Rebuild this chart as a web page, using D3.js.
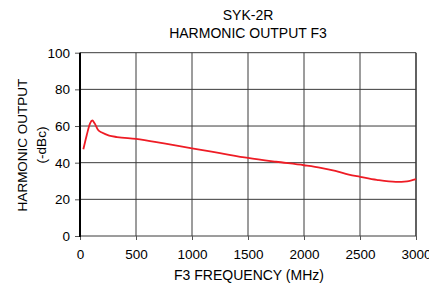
<!DOCTYPE html>
<html>
<head>
<meta charset="utf-8">
<script src="https://cdn.jsdelivr.net/npm/d3@7"></script>
<style>
  body { margin: 0; background: #fff; }
  text { font-family: "Liberation Sans", Arial, sans-serif; fill: #000; }
</style>
</head>
<body>
<svg id="chart" width="429" height="287"></svg>
<script>
// curve
const freq = [30, 60, 90, 110, 130, 160, 200, 260, 330, 500, 750, 1000, 1250, 1500, 1750, 2000, 2150, 2280, 2400, 2500, 2650, 2820, 2920, 3000];
const level = [47.3, 55, 61.5, 63, 61.5, 58, 56.3, 54.8, 54, 53, 50.5, 47.8, 45.2, 42.6, 40.5, 38.6, 37.2, 35.5, 33.5, 32.3, 30.6, 29.5, 29.8, 31];
const xTicks = [0, 500, 1000, 1500, 2000, 2500, 3000];
const yTicks = [0, 20, 40, 60, 80, 100];

const svg = d3.select('#chart');
const m = { left: 80, right: 416, top: 52.7, bottom: 236 };

const x = d3.scaleLinear().domain([0, 3000]).range([m.left, m.right]);
const y = d3.scaleLinear().domain([0, 100]).range([m.bottom, m.top]);

// grid
svg.append('g')
  .selectAll('line')
  .data(yTicks)
  .enter().append('line')
  .attr('x1', m.left).attr('x2', m.right)
  .attr('y1', d => y(d)).attr('y2', d => y(d))
  .attr('stroke', '#3a3a3a').attr('stroke-width', 1);

svg.append('g')
  .selectAll('line')
  .data(xTicks.slice(1))
  .enter().append('line')
  .attr('x1', d => x(d)).attr('x2', d => x(d))
  .attr('y1', m.top).attr('y2', m.bottom)
  .attr('stroke', '#3a3a3a').attr('stroke-width', d => d === 3000 ? 1.6 : 1);

// axes
const xAxis = d3.axisBottom(x).tickValues(xTicks).tickSize(4).tickPadding(9).tickFormat(d3.format('d'));
const gx = svg.append('g').attr('transform', `translate(0,${m.bottom})`).call(xAxis);
gx.select('.domain').remove();
gx.selectAll('line').attr('stroke', '#555');
gx.selectAll('text').attr('font-size', 13.5);

const yAxis = d3.axisLeft(y).tickValues(yTicks).tickSize(5).tickPadding(5);
const gy = svg.append('g').attr('transform', `translate(${m.left},0)`).call(yAxis);
gy.select('.domain').remove();
gy.selectAll('line').attr('stroke', '#555');
gy.selectAll('text').attr('font-size', 13.5);

svg.append('line')
  .attr('x1', m.left).attr('x2', m.left)
  .attr('y1', m.top).attr('y2', m.bottom + 1)
  .attr('stroke', '#000').attr('stroke-width', 2);

// curve
const line = d3.line()
  .x((d, i) => x(freq[i]))
  .y(d => y(d))
  .curve(d3.curveMonotoneX);

svg.append('path')
  .datum(level)
  .attr('d', line)
  .attr('fill', 'none')
  .attr('stroke', '#ee1c25')
  .attr('stroke-width', 1.8);

// titles
svg.append('text').attr('x', 248).attr('y', 20).attr('text-anchor', 'middle').attr('font-size', 14).text('SYK-2R');
svg.append('text').attr('x', 248).attr('y', 38).attr('text-anchor', 'middle').attr('font-size', 14).text('HARMONIC OUTPUT F3');
svg.append('text').attr('x', 249).attr('y', 280).attr('text-anchor', 'middle').attr('font-size', 14).text('F3 FREQUENCY (MHz)');

const yl = svg.append('g').attr('transform', 'translate(0,145) rotate(-90)');
yl.append('text').attr('x', 0).attr('y', 27).attr('text-anchor', 'middle').attr('font-size', 13.5).text('HARMONIC OUTPUT');
yl.append('text').attr('x', 0).attr('y', 46).attr('text-anchor', 'middle').attr('font-size', 13.5).text('(-dBc)');
</script>
</body>
</html>
